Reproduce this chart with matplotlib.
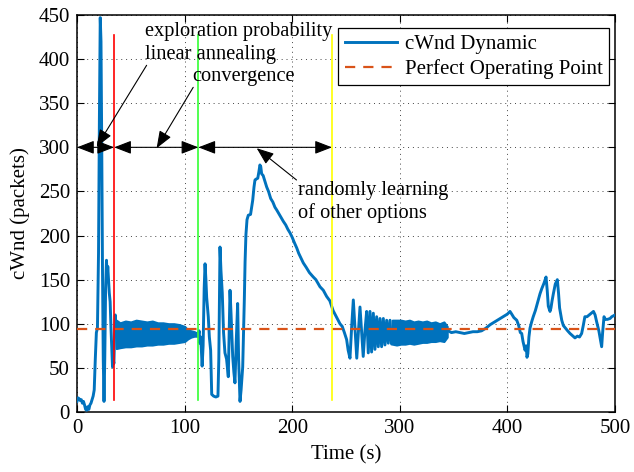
import numpy as np
import matplotlib
matplotlib.use("Agg")
import matplotlib.pyplot as plt
from matplotlib.patches import ArrowStyle

# ---- data -------------------------------------------------------------
# congestion window trace (s, packets); dense oscillation stretches are
# described separately by their upper / lower envelopes
trace_t = [0, 1, 2, 3, 4, 5, 6, 7, 8, 9, 10, 11, 12, 13, 14, 15, 16, 17, 18, 19,
           20.0, 20.8, 21.6, 22.3, 23.0, 23.7, 24.4, 25.1, 25.8, 26.6, 27.4, 28.0, 28.6,
           29.3, 30.0, 30.8, 31.6, 32.4, 33.0, 33.6, 34.3, 35.0, 35.6, 36.5,
           60, 90, 112,
           112.8, 113.5, 114.2, 115.0, 116.3, 117.2, 118.2, 119.0, 119.8, 120.5,
           122.0, 123.0, 124.2, 125.2, 127.0, 129.0, 131.0, 131.8, 132.9, 133.8,
           135.0, 136.2, 137.5, 139.0, 140.6, 141.4, 142.2, 143.2, 144.7, 145.8,
           146.8, 148.0, 149.3, 150.2, 151.5, 152.5, 154.0, 155.5, 156.2, 157.0,
           158.0, 159.2, 161.3, 162.3, 163.3, 164.5, 165.4, 166.5, 168.0, 169.0,
           170.0, 170.8, 171.6, 173.0, 174.5, 176.3, 178.0, 180.0, 182.0, 184.0,
           185.6, 188.0, 190.0, 191.8, 194.0, 196.0, 198.0, 200.0, 202.0, 204.2,
           206.0, 208.0, 210.3, 213.0, 216.0, 219.6, 222.0, 225.8, 228.9, 232.0,
           235.0, 238.0, 241.0, 244.4, 246.5, 248.5, 250.6, 252.0, 253.7, 255.2,
           256.8, 258.4, 260.0, 261.5, 263.0, 264.5, 266.0, 267.6, 269.2, 270.7,
           272.3, 273.8, 275.4, 276.9, 278.5, 280.0, 281.6, 283.1, 284.7, 286.2,
           287.8, 289.3, 290.9, 292.4, 293.5,
           320, 344,
           345, 348, 352, 356, 360, 364, 368, 372, 376, 380, 384, 388, 392, 396,
           400, 402.4, 404, 406, 408.7, 410.5, 412, 413.3, 414.5, 416.4, 417.5,
           418.2, 419, 420, 421, 422.5, 424, 426, 428, 430.3, 432, 434, 435.9,
           437, 438, 439.6, 440.5, 441.5, 442.7, 444.5, 446.4, 447.5, 448.5,
           450.5, 452, 454, 456, 458.2, 460, 462.8, 465, 467, 469, 470.5, 472,
           474, 476, 478, 480, 481.5, 483, 485, 486.5, 487.6, 488.5, 489.8, 491,
           493, 495.4, 497, 500]
trace_w = [12, 16, 15, 13, 14, 10, 12, 8, 3, 2, 6, 3, 8, 10, 14, 18, 25, 60, 90, 95,
           180, 330, 447, 420, 300, 160, 60, 12, 60, 140, 172, 150, 165,
           150, 135, 125, 95, 70, 51, 60, 55, 90, 110, 90,
           89, 89, 88,
           87, 92, 78, 85, 52, 75, 140, 168, 150, 130,
           108, 85, 70, 20, 18, 17, 18, 60, 187, 160,
           135, 90, 67, 60, 40, 90, 138, 110, 63, 45,
           33, 80, 123, 60, 12, 25, 51, 127, 170, 201,
           218, 223, 224, 232, 240, 255, 263, 264, 265, 272,
           280, 278, 270, 268, 262, 255, 250, 242, 238, 232,
           229, 224, 220, 216, 212, 207, 203, 198, 192, 186,
           180, 175, 169, 164, 158, 153, 150, 142, 138, 131,
           126, 115, 108, 100, 97, 90, 82, 70, 61, 95,
           127, 95, 61, 90, 119, 90, 63, 92, 114, 67,
           114, 68, 112, 71, 108, 74, 106, 74, 106, 76,
           104, 78, 104, 77, 90,
           90, 92,
           92, 90, 91, 90, 89, 90, 91, 91, 92, 95, 99, 102, 105, 108,
           111, 114, 111, 107, 104, 98, 90, 89, 80, 70, 75,
           62, 66, 85, 95, 102, 108, 115, 124, 134, 140, 146, 153,
           138, 120, 114, 118, 126, 134, 145, 150, 135, 118,
           104, 98, 95, 92, 89, 87, 84, 86, 85, 89, 98, 108,
           108, 110, 112, 114, 110, 102, 92, 82, 74, 90, 108, 105,
           105, 106, 108, 110]

# oscillation band after the first decision point
band1_t = [36.5, 40, 45, 50, 55, 60, 65, 70, 75, 80, 85, 90, 95, 100, 103, 106, 109, 112]
band1_hi = [104, 101, 103, 102, 104, 103, 102, 103, 101, 101, 100, 100, 99, 97, 93, 92, 91, 89]
band1_lo = [72, 73, 74, 74, 75, 75, 76, 76, 77, 77, 78, 78, 79, 80, 83, 85, 86, 86]

# oscillation band after the exploration phase
band2_t = [293, 297, 301, 305, 309, 313, 317, 321, 325, 329, 333, 337, 341, 344]
band2_hi = [104, 104, 104, 103, 104, 102, 103, 102, 103, 101, 102, 100, 102, 97]
band2_lo = [77, 76, 77, 77, 78, 77, 78, 79, 79, 80, 80, 81, 80, 85]

operating_point = 94

# phase boundaries (s) and their colours
phase_t = [34.5, 112.8, 237.0]
phase_colors = ["#ff0000", "#33ff33", "#ffff00"]
phase_span = (14, 427)

# double arrows marking each phase, at this height
phase_arrow_y = 300
phase_edges = [0, 34.5, 112.8, 237.0]

# ---- style --------------------------------------------------------------
plt.rcParams["font.family"] = ["Liberation Serif", "DejaVu Serif"]
blue = "#0072BD"
orange = "#D95319"
fs = 15

fig = plt.figure(figsize=(6.34, 4.72), dpi=100)
ax = fig.add_axes([77 / 634, 1 - 412 / 472, 538 / 634, 397 / 472])

ax.fill_between(band1_t, band1_lo, band1_hi, color=blue, lw=1.6, ec=blue, zorder=3)
ax.fill_between(band2_t, band2_lo, band2_hi, color=blue, lw=1.6, ec=blue, zorder=3)
line_c, = ax.plot(trace_t, trace_w, color=blue, lw=2.1, zorder=3,
                  solid_joinstyle="round", label="cWnd Dynamic")
line_p = ax.axhline(operating_point, color=orange, lw=1.6, dashes=(4.6, 3.6),
                    zorder=4, label="Perfect Operating Point")

for xv, c in zip(phase_t, phase_colors):
    ax.plot([xv, xv], phase_span, color=c, lw=1.2, zorder=5)

dbl = ArrowStyle("<|-|>", head_length=0.44, head_width=0.17)
for a, b in zip(phase_edges[:-1], phase_edges[1:]):
    ax.annotate("", xy=(b, phase_arrow_y), xytext=(a, phase_arrow_y),
                arrowprops=dict(arrowstyle=dbl, mutation_scale=24, color="k",
                                lw=0.8, shrinkA=0, shrinkB=0), zorder=6)

one = ArrowStyle("-|>", head_length=0.44, head_width=0.17)
aprops = dict(arrowstyle=one, mutation_scale=24, color="k", lw=0.8,
              shrinkA=0, shrinkB=0)
fs_note = 14.7
ax.annotate("", xy=(18.3, 300.7), xytext=(64.7, 393), arrowprops=aprops, zorder=6)
ax.text(63, 431, "exploration probability", fontsize=fs_note, va="center", ha="left", zorder=6)
ax.text(63, 405, "linear annealing", fontsize=fs_note, va="center", ha="left", zorder=6)
ax.annotate("", xy=(74, 299), xytext=(108, 368), arrowprops=aprops, zorder=6)
ax.text(107, 380, "convergence", fontsize=fs_note, va="center", ha="left", zorder=6)
ax.annotate("", xy=(167, 299), xytext=(204, 263), arrowprops=aprops, zorder=6)
ax.text(205, 251.5, "randomly learning", fontsize=fs_note, va="center", ha="left", zorder=6)
ax.text(205, 225, "of other options", fontsize=fs_note, va="center", ha="left", zorder=6)

ax.set_xlim(0, 500)
ax.set_ylim(0, 450)
ax.set_xticks(np.arange(0, 501, 100))
ax.set_yticks(np.arange(0, 451, 50))
ax.tick_params(direction="in", top=True, right=True, length=5, width=0.8,
               labelsize=fs, pad=5)
ax.grid(True, color="#444444", lw=0.7, linestyle=(0, (1, 4)))
for s in ax.spines.values():
    s.set_linewidth(1.1)
ax.set_xlabel("Time (s)", fontsize=fs, labelpad=5)
ax.set_ylabel("cWnd (packets)", fontsize=fs, labelpad=6)

leg = ax.legend(handles=[line_c, line_p], loc="upper right",
                bbox_to_anchor=(0.989, 0.967), fontsize=fs, frameon=True,
                fancybox=False, edgecolor="k", framealpha=1, handlelength=2.5,
                handletextpad=0.4, borderpad=0.3, labelspacing=0.25,
                borderaxespad=0)
leg.get_frame().set_linewidth(0.9)
leg.set_zorder(7)

fig.savefig("out.png", dpi=100)
